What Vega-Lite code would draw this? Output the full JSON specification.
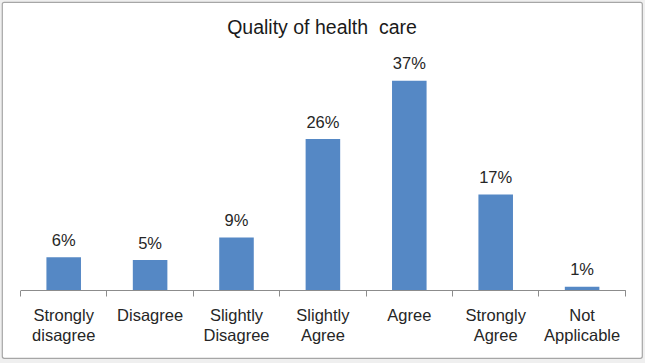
{
  "$schema": "https://vega.github.io/schema/vega-lite/v6.json",
  "width": 640,
  "height": 356,
  "autosize": "none",
  "padding": {"left": 2, "top": 2, "right": 3, "bottom": 5},
  "background": "#efefef",
  "config": {
    "view": {"stroke": "#a6a6a6", "strokeWidth": 1.2, "fill": "white", "cornerRadius": 2},
    "font": "Liberation Sans"
  },
  "title": {
    "text": "Quality of health\u00a0 care",
    "font": "Liberation Sans",
    "fontSize": 19.5,
    "fontWeight": "normal",
    "color": "#1a1a1a",
    "anchor": "middle",
    "baseline": "alphabetic",
    "offset": -33,
    "dy": 18
  },
  "data": {
    "values": [
      {"response": "Strongly disagree", "share": 0.0572},
      {"response": "Disagree", "share": 0.0524},
      {"response": "Slightly Disagree", "share": 0.092},
      {"response": "Slightly Agree", "share": 0.264},
      {"response": "Agree", "share": 0.366},
      {"response": "Strongly Agree", "share": 0.167},
      {"response": "Not Applicable", "share": 0.0058}
    ]
  },
  "encoding": {
    "x": {
      "field": "response",
      "type": "nominal",
      "sort": null,
      "scale": {"range": [18.5, 623.3], "paddingInner": 0, "paddingOuter": 0},
      "axis": {
        "title": null,
        "orient": "bottom",
        "offset": -68,
        "domainColor": "#8c8c8c",
        "tickColor": "#8c8c8c",
        "tickSize": 6,
        "bandPosition": 1,
        "tickExtra": true,
        "labelAngle": 0,
        "labelFont": "Liberation Sans",
        "labelFontSize": 16.5,
        "labelColor": "#262626",
        "labelPadding": 11,
        "labelLineHeight": 20.5,
        "labelExpr": "split(datum.label, ' ')"
      }
    },
    "y": {
      "field": "share",
      "type": "quantitative",
      "scale": {"domain": [0, 0.4], "range": [288, 59.2], "nice": false},
      "axis": null
    }
  },
  "layer": [
    {
      "mark": {"type": "bar", "color": "#5588c5", "width": {"band": 0.4}}
    },
    {
      "mark": {"type": "text", "baseline": "alphabetic", "dy": -11.4, "fontSize": 16.5, "color": "#262626", "font": "Liberation Sans"},
      "encoding": {
        "text": {"field": "share", "type": "quantitative", "format": ".0%"}
      }
    }
  ]
}
